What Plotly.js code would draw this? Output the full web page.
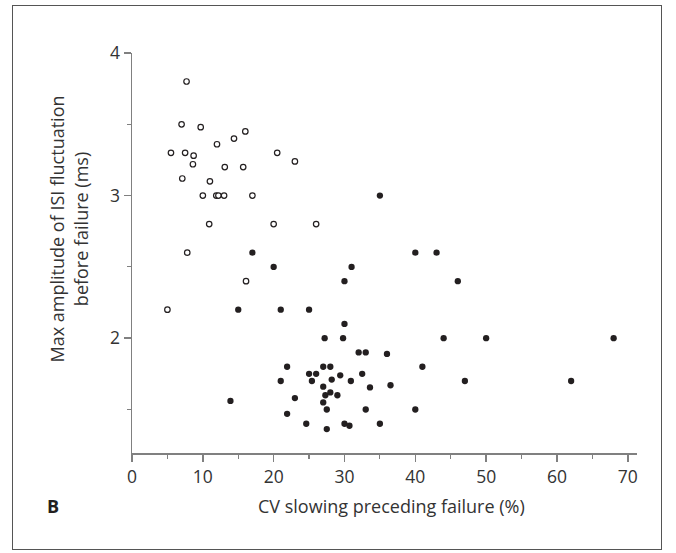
<!DOCTYPE html>
<html>
<head>
<meta charset="utf-8">
<script src="https://cdn.plot.ly/plotly-3.0.1.min.js"></script>
<style>
  html, body { margin: 0; padding: 0; background: #fff; }
  #wrap { position: relative; width: 676px; height: 553px; }
  #chart { position: absolute; left: 0; top: 0; width: 676px; height: 553px; }
  #frame { position: absolute; left: 12px; top: 5px; width: 650px; height: 545px;
           border: 1.5px solid #555; pointer-events: none; box-sizing: border-box; }
</style>
</head>
<body>
<div id="wrap">
  <div id="chart"></div>
  <div id="frame"></div>
</div>
<script>
// Cells with no ISI fluctuation before failure (open circles)
const openCV  = [7.7, 7.0, 9.7, 16.0, 14.4, 12.0, 5.5, 7.5, 8.7, 20.5, 23.0, 8.6, 13.1, 15.7,
                 7.1, 11.0, 10.0, 11.9, 12.2, 13.0, 17.0, 10.9, 20.0, 26.0, 7.8, 16.1, 5.0];
const openAmp = [3.80, 3.50, 3.48, 3.45, 3.40, 3.36, 3.30, 3.30, 3.28, 3.30, 3.24, 3.22, 3.20, 3.20,
                 3.12, 3.10, 3.00, 3.00, 3.00, 3.00, 3.00, 2.80, 2.80, 2.80, 2.60, 2.40, 2.20];

// Cells with ISI fluctuation before failure (filled circles)
const fillCV  = [17.0, 20.0, 31.0, 30.0, 15.0, 21.0, 25.0, 30.0, 27.2, 29.8, 32.0, 33.0, 36.0,
                 21.9, 27.0, 28.0, 25.0, 26.0, 29.4, 32.5, 21.0, 25.4, 28.2, 30.9, 36.5, 27.0,
                 33.6, 28.0, 27.3, 29.0, 23.0, 13.9, 27.0, 27.5, 33.0, 21.9, 24.6, 30.0, 30.7,
                 35.0, 27.5, 35.0, 40.0, 43.0, 46.0, 44.0, 50.0, 68.0, 41.0, 47.0, 62.0, 40.0];
const fillAmp = [2.60, 2.50, 2.50, 2.40, 2.20, 2.20, 2.20, 2.10, 2.00, 2.00, 1.90, 1.90, 1.89,
                 1.80, 1.80, 1.80, 1.75, 1.75, 1.74, 1.75, 1.70, 1.70, 1.71, 1.70, 1.67, 1.66,
                 1.655, 1.62, 1.60, 1.60, 1.58, 1.56, 1.55, 1.50, 1.50, 1.47, 1.40, 1.40, 1.386,
                 1.40, 1.363, 3.00, 2.60, 2.60, 2.40, 2.00, 2.00, 2.00, 1.80, 1.70, 1.70, 1.50];

const xTickVals = [0, 10, 20, 30, 40, 50, 60, 70];
const yTickVals = [2, 3, 4];

const xTitle = 'CV slowing preceding failure (%)';
const yTitle = 'Max amplitude of ISI fluctuation<br>before failure (ms)';
const panelLabel = 'B';

const FONT = '"Open Sans", "Noto Sans", sans-serif';
const AXIS = '#808080';
const INK = '#231f20';
const TEXT = '#333';

const traces = [
  {
    x: openCV, y: openAmp, type: 'scatter', mode: 'markers',
    marker: { size: 5.5, color: '#fff', line: { color: INK, width: 1.2 } },
    hoverinfo: 'x+y'
  },
  {
    x: fillCV, y: fillAmp, type: 'scatter', mode: 'markers',
    marker: { size: 6.3, color: INK, line: { width: 0 } },
    hoverinfo: 'x+y'
  }
];

const layout = {
  width: 676, height: 553,
  margin: { l: 132, r: 39, t: 52.7, b: 100 },
  paper_bgcolor: '#fff', plot_bgcolor: '#fff',
  showlegend: false,
  font: { family: FONT, size: 17.5, color: TEXT },
  xaxis: {
    range: [0, 71.3], tickvals: xTickVals, ticktext: xTickVals.map(String),
    showline: true, linecolor: AXIS, linewidth: 1.5,
    ticks: 'outside', ticklen: 7, tickwidth: 1.5, tickcolor: AXIS,
    minor: { dtick: 5, tick0: 0, ticks: 'outside', ticklen: 4, tickwidth: 1.2, tickcolor: AXIS },
    showgrid: false, zeroline: false, fixedrange: true,
    tickfont: { family: FONT, size: 17.5, color: TEXT }
  },
  yaxis: {
    range: [1.195, 4], tickvals: yTickVals, ticktext: yTickVals.map(String),
    showline: true, linecolor: AXIS, linewidth: 1.5,
    ticks: 'outside', ticklen: 7, tickwidth: 1.5, tickcolor: AXIS,
    minor: { dtick: 0.5, tick0: 0, ticks: 'outside', ticklen: 4, tickwidth: 1.2, tickcolor: AXIS },
    showgrid: false, zeroline: false, fixedrange: true,
    tickfont: { family: FONT, size: 17.5, color: TEXT }
  },
  annotations: [
    {
      text: xTitle, xref: 'paper', yref: 'paper', x: 0.5135, y: -0.132,
      xanchor: 'center', yanchor: 'middle', showarrow: false,
      font: { family: FONT, size: 18, color: TEXT }
    },
    {
      text: yTitle, xref: 'paper', yref: 'paper', x: -0.1238, y: 0.56,
      xanchor: 'center', yanchor: 'middle', showarrow: false, textangle: -90,
      font: { family: FONT, size: 18, color: TEXT }
    },
    {
      text: '<b>' + panelLabel + '</b>', xref: 'paper', yref: 'paper', x: -0.156, y: -0.132,
      xanchor: 'center', yanchor: 'middle', showarrow: false,
      font: { family: FONT, size: 18, color: INK }
    }
  ]
};

Plotly.newPlot('chart', traces, layout, { displayModeBar: false, staticPlot: true });
</script>
</body>
</html>
